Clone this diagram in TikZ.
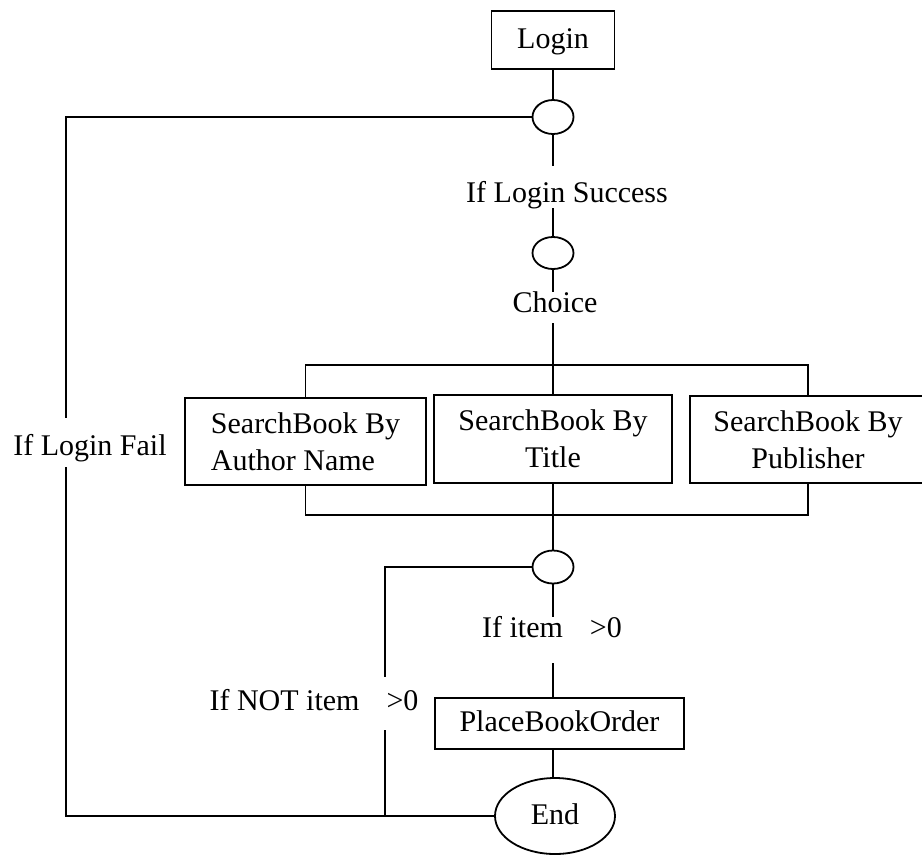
\documentclass[tikz,border=0pt]{standalone}
\usepackage{fontspec}
\setmainfont{Liberation Serif}
\usepackage{tikz}
\usetikzlibrary{shapes.geometric, positioning}
\tikzstyle{box} = [
    draw,
    rectangle,
    inner sep=0pt,
    align=center
]
\tikzstyle{onebox} = [
    box,
    text height=0.8em,
    text depth=0pt
]
\tikzstyle{gate} = [
    draw,
    ellipse,
    inner sep=0pt,
    minimum width=20.5pt,
    minimum height=17pt
]
\tikzstyle{lbl} = [
    anchor=base,
    inner sep=0pt
]

\begin{document}
\begin{tikzpicture}[x=0.5pt,y=-0.5pt,line width=0.9pt,
    font=\fontsize{15}{18.5}\selectfont]
\useasboundingbox (0,0) rectangle (922,859);

% login and first split
\node[onebox, minimum width=61.5pt, minimum height=29pt] (login) at (553,40) {Login};
\node[gate] (or1) at (553,117) {};
\node[lbl] (succ) at (567,202) {If Login Success};
\node[gate, minimum height=16pt] (or2) at (553,253) {};
\node[lbl] (choice) at (555,312) {Choice};

% search options
\node[box, align=left, minimum width=120.5pt, minimum height=43.5pt] (author) at (305.5,441.5) {SearchBook By\\Author Name};
\node[box, minimum width=119pt, minimum height=44pt] (title) at (553,439) {SearchBook By\\Title};
\node[box, minimum width=118pt, minimum height=43.5pt] (publisher) at (808,439.5) {SearchBook By\\Publisher};

% order part
\node[gate, minimum height=16.5pt] (or3) at (553,567) {};
\node[lbl] (ifitem) at (552,637) {If item\hspace{0.9em}>0};
\node[onebox, minimum width=124.5pt, minimum height=25.5pt] (order) at (559.5,723.5) {PlaceBookOrder};
\node[draw, ellipse, inner sep=0pt, minimum width=60pt, minimum height=38pt,
    text height=0.8em, text depth=0pt] (end) at (555,816) {End};

\node[lbl] (fail) at (90,455) {If Login Fail};
\node[lbl] (notitem) at (314,710) {If NOT item\hspace{0.9em}>0};

% line ends around the labels
\coordinate (s1) at (553,166);
\coordinate (s2) at (553,208);
\coordinate (c1) at (553,292);
\coordinate (c2) at (553,323);
\coordinate (bt) at (553,365);
\coordinate (bb) at (553,515);
\coordinate (f1) at (66,418);
\coordinate (f2) at (66,467);
\coordinate (i1) at (553,617);
\coordinate (i2) at (553,663);
\coordinate (n1) at (385,677);
\coordinate (n2) at (385,730);

\draw (login) -- (or1);
\draw (or1) -- (s1);
\draw (s2) -- (or2);
\draw (or2) -- (c1);
\draw (c2) -- (bt);

\draw (author.north) |- (bt) -| (publisher.north);
\draw (bt) -- (title);
\draw (author.south) |- (bb) -| (publisher.south);
\draw (title) -- (bb);
\draw (bb) -- (or3);

\draw (or3) -- (i1);
\draw (i2) -- (i2 |- order.north);
\draw (order.south -| i2) -- (i2 |- end.north);

% failure branches
\draw (or1.west) -| (f1);
\draw (f2) |- (end.west);
\draw (or3.west) -| (n1);
\draw (n2) -- (n2 |- end.west);

\end{tikzpicture}
\end{document}
